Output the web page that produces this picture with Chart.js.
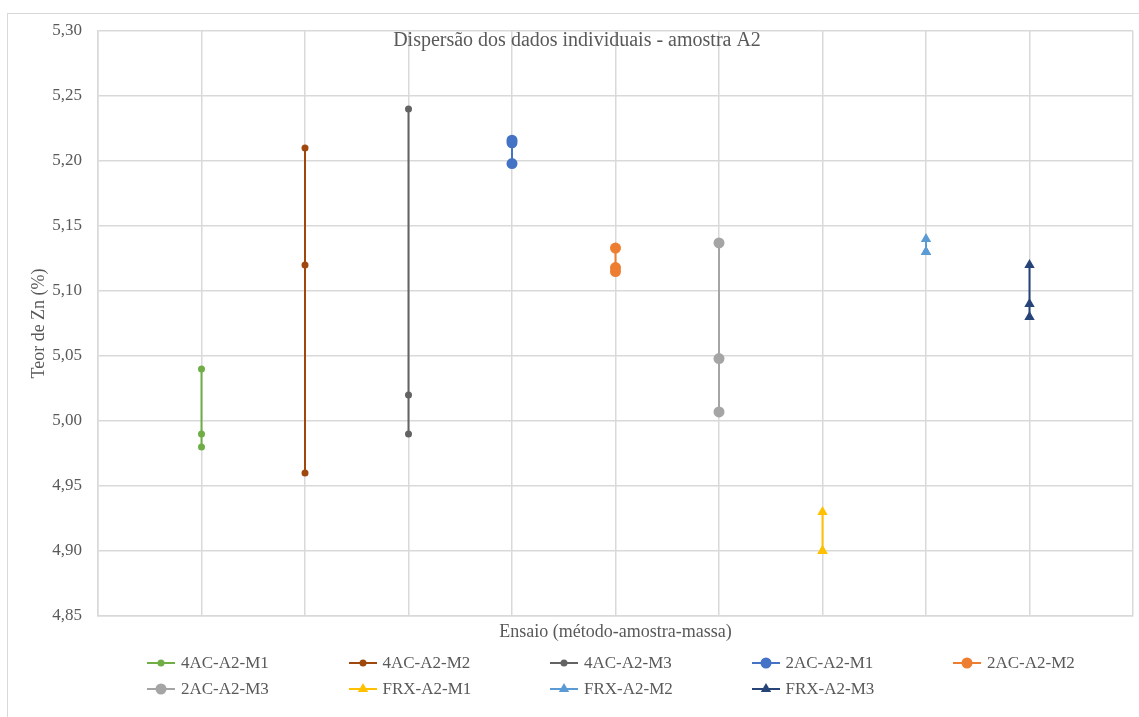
<!DOCTYPE html>
<html lang="pt">
<head>
<meta charset="utf-8">
<script src="https://cdn.jsdelivr.net/npm/chart.js@4/dist/chart.umd.min.js"></script>
<style>
  html, body { margin: 0; padding: 0; background: #fff; }
  #wrap { position: relative; width: 1139px; height: 717px; overflow: hidden; }
  #frame { position: absolute; left: 7px; top: 13px; width: 1140px; height: 720px;
           border: 1px solid #d9d9d9; box-sizing: border-box; }
  #chart { position: absolute; left: 0; top: 0; }
  #legend { position: absolute; left: 147px; top: 653px; display: grid;
            grid-template-columns: repeat(5, 201.5px); grid-auto-rows: 26px;
            font-family: "Liberation Serif", "Times New Roman", serif; font-size: 17px; color: #595959; }
  .item { display: flex; align-items: center; height: 20px; }
  .item canvas { margin-right: 5px; }
</style>
</head>
<body>
<div id="wrap">
  <div id="frame"></div>
  <canvas id="chart" width="1139" height="717"></canvas>
  <div id="legend"></div>
</div>
<script>
// Ensaios (método-amostra-massa) e respectivos resultados de teor de Zn (%)
const categories = ['4AC-A2-M1', '4AC-A2-M2', '4AC-A2-M3', '2AC-A2-M1', '2AC-A2-M2',
                    '2AC-A2-M3', 'FRX-A2-M1', 'FRX-A2-M2', 'FRX-A2-M3'];
const ac4M1 = [5.04, 4.99, 4.98];
const ac4M2 = [5.21, 5.12, 4.96];
const ac4M3 = [5.24, 5.02, 4.99];
const ac2M1 = [5.216, 5.214, 5.198];
const ac2M2 = [5.133, 5.118, 5.115];
const ac2M3 = [5.137, 5.048, 5.007];
const frxM1 = [4.93, 4.90, 4.90];
const frxM2 = [5.14, 5.13, 5.13];
const frxM3 = [5.12, 5.09, 5.08];
const yTicks = [4.85, 4.90, 4.95, 5.00, 5.05, 5.10, 5.15, 5.20, 5.25, 5.30];

const seriesValues = [ac4M1, ac4M2, ac4M3, ac2M1, ac2M2, ac2M3, frxM1, frxM2, frxM3];
const colors = ['#70AD47', '#9E480E', '#636363', '#4472C4', '#ED7D31',
                '#A5A5A5', '#FFC000', '#5B9BD5', '#264478'];
const markerStyle = ['circle', 'circle', 'circle', 'circle', 'circle', 'circle',
                     'triangle', 'triangle', 'triangle'];
const markerRadius = [3.5, 3.5, 3.5, 5.5, 5.5, 5.5, 6, 6, 6];

const FONT = '"Liberation Serif", "Times New Roman", serif';
const TEXT = '#595959';
const GRID = '#d9d9d9';

const datasets = categories.map((name, i) => ({
  label: name,
  data: seriesValues[i].map(v => ({ x: i + 1, y: v })),
  showLine: true,
  borderColor: colors[i],
  backgroundColor: colors[i],
  borderWidth: 2,
  pointStyle: markerStyle[i],
  pointRadius: markerRadius[i],
  pointHoverRadius: markerRadius[i],
  pointBorderWidth: 0
}));

// Título sobreposto à área do gráfico
const overlayTitle = {
  id: 'overlayTitle',
  afterDraw(chart) {
    const ctx = chart.ctx;
    ctx.save();
    ctx.font = '20px ' + FONT;
    ctx.fillStyle = TEXT;
    ctx.textAlign = 'center';
    ctx.textBaseline = 'middle';
    ctx.fillText('Dispersão dos dados individuais - amostra A2', 577, 41);
    ctx.restore();
  }
};

const chart = new Chart(document.getElementById('chart'), {
  type: 'scatter',
  data: { datasets },
  plugins: [overlayTitle],
  options: {
    responsive: false,
    animation: false,
    layout: { padding: { left: 20, top: 31, right: 6, bottom: 70 } },
    plugins: { legend: { display: false }, tooltip: { enabled: false }, title: { display: false } },
    scales: {
      x: {
        type: 'linear', min: 0, max: 10,
        ticks: { stepSize: 1, display: false },
        grid: { color: GRID, lineWidth: 1.5, drawTicks: false },
        border: { color: GRID, width: 1.5 },
        title: { display: true, text: 'Ensaio (método-amostra-massa)', color: TEXT,
                 font: { family: FONT, size: 18 }, padding: { top: 4, bottom: 4 } },
        afterFit(scale) { scale.height = 31; }
      },
      y: {
        type: 'linear', min: 4.85, max: 5.30,
        afterBuildTicks(scale) { scale.ticks = yTicks.map(v => ({ value: v })); },
        ticks: {
          color: TEXT, padding: 16, font: { family: FONT, size: 17 },
          callback: v => Number(v).toFixed(2).replace('.', ',')
        },
        grid: { color: GRID, lineWidth: 1.5, drawTicks: false },
        border: { color: GRID, width: 1.5 },
        title: { display: true, text: 'Teor de Zn (%)', color: TEXT,
                 font: { family: FONT, size: 18 }, padding: { top: 8, bottom: 0 } },
        afterFit(scale) { scale.width = 78; }
      }
    }
  }
});

// Legenda em grade (5 colunas), construída a partir das séries do gráfico
const legend = document.getElementById('legend');
chart.data.datasets.forEach(ds => {
  const item = document.createElement('div');
  item.className = 'item';
  const icon = document.createElement('canvas');
  icon.width = 29; icon.height = 16;
  const c = icon.getContext('2d');
  c.strokeStyle = ds.borderColor; c.fillStyle = ds.backgroundColor; c.lineWidth = 2;
  c.beginPath(); c.moveTo(0, 8); c.lineTo(28, 8); c.stroke();
  const r = ds.pointRadius;
  c.beginPath();
  if (ds.pointStyle === 'triangle') {
    let a = 0;
    c.moveTo(14 + Math.sin(a) * r, 8 - Math.cos(a) * r);
    a += 2 * Math.PI / 3; c.lineTo(14 + Math.sin(a) * r, 8 - Math.cos(a) * r);
    a += 2 * Math.PI / 3; c.lineTo(14 + Math.sin(a) * r, 8 - Math.cos(a) * r);
    c.closePath();
  } else {
    c.arc(14, 8, r, 0, Math.PI * 2);
  }
  c.fill();
  const label = document.createElement('span');
  label.textContent = ds.label;
  item.appendChild(icon);
  item.appendChild(label);
  legend.appendChild(item);
});
</script>
</body>
</html>
